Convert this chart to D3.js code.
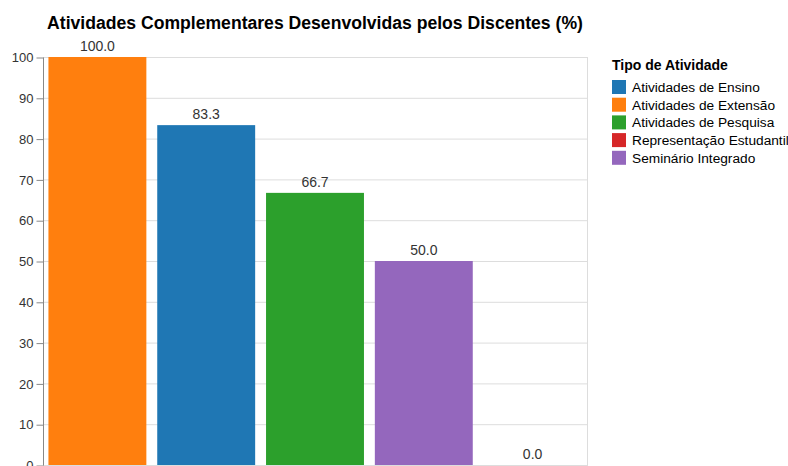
<!DOCTYPE html>
<html>
<head>
<meta charset="utf-8">
<script src="https://cdn.jsdelivr.net/npm/d3@7"></script>
<style>
  html, body { margin: 0; padding: 0; background: #fff; }
  svg { display: block; font-family: "Liberation Sans", Arial, Helvetica, sans-serif; }
</style>
</head>
<body>
<svg id="chart" width="788" height="466"></svg>
<script>
const categories = ["Atividades de Extensão", "Atividades de Ensino", "Atividades de Pesquisa", "Seminário Integrado", "Representação Estudantil"];
const values = [100.0, 83.3, 66.7, 50.0, 0.0];
const legendOrder = ["Atividades de Ensino", "Atividades de Extensão", "Atividades de Pesquisa", "Representação Estudantil", "Seminário Integrado"];
const yTicks = [0, 10, 20, 30, 40, 50, 60, 70, 80, 90, 100];
const titleText = "Atividades Complementares Desenvolvidas pelos Discentes (%)";
const legendTitle = "Tipo de Atividade";

const svg = d3.select("#chart");
const m = { left: 43, top: 57, right: 587, bottom: 465 };

const x = d3.scaleBand().domain(categories).range([m.left, m.right]).paddingInner(0.1).paddingOuter(0.05);
const y = d3.scaleLinear().domain([0, 100]).range([m.bottom, m.top]);
const color = d3.scaleOrdinal().domain(legendOrder).range(d3.schemeCategory10);

// grid
svg.append("g").selectAll("line").data(yTicks).join("line")
  .attr("x1", m.left).attr("x2", m.right)
  .attr("y1", d => y(d) + 0.5).attr("y2", d => y(d) + 0.5)
  .attr("stroke", "#ddd").attr("stroke-width", 1);

// view border
svg.append("rect")
  .attr("x", m.left + 0.5).attr("y", m.top + 0.5)
  .attr("width", m.right - m.left).attr("height", m.bottom - m.top)
  .attr("fill", "none").attr("stroke", "#ddd");

// bars
const data = categories.map((c, i) => ({ c, v: values[i] }));
svg.append("g").selectAll("rect").data(data).join("rect")
  .attr("x", d => x(d.c)).attr("width", x.bandwidth())
  .attr("y", d => y(d.v)).attr("height", d => y(0) - y(d.v))
  .attr("fill", d => color(d.c));

// value labels
svg.append("g").selectAll("text").data(data).join("text")
  .attr("x", d => x(d.c) + x.bandwidth() / 2)
  .attr("y", d => y(d.v) - 6)
  .attr("text-anchor", "middle")
  .attr("font-size", 14)
  .attr("fill", "#333")
  .text(d => d.v.toFixed(1));

// y axis
const yAxis = d3.axisLeft(y).tickValues(yTicks).tickSize(7).tickPadding(3);
const gy = svg.append("g").attr("transform", `translate(${m.left + 0.5},0.5)`).call(yAxis);
gy.select(".domain").attr("stroke", "#888").attr("d", `M0,${m.top}V${m.bottom}`);
gy.selectAll(".tick line").attr("stroke", "#888");
gy.selectAll(".tick text").attr("font-size", 13).attr("fill", "#333").attr("font-family", null);
gy.attr("font-family", null);

// title
svg.append("text")
  .attr("x", (m.left + m.right) / 2).attr("y", 29)
  .attr("text-anchor", "middle")
  .attr("font-size", 17.6).attr("font-weight", "bold").attr("fill", "#000")
  .text(titleText);

// legend
const lg = svg.append("g").attr("transform", "translate(612,0)");
lg.append("text").attr("x", 0).attr("y", 69.5)
  .attr("font-size", 14).attr("font-weight", "bold").attr("fill", "#000")
  .text(legendTitle);
const items = lg.selectAll("g.item").data(legendOrder).join("g")
  .attr("class", "item")
  .attr("transform", (d, i) => `translate(0,${87 + i * 17.7})`);
items.append("rect").attr("x", 0).attr("y", -7).attr("width", 14).attr("height", 14)
  .attr("fill", d => color(d));
items.append("text").attr("x", 20).attr("y", 5)
  .attr("font-size", 13.7).attr("fill", "#000")
  .text(d => d);
</script>
</body>
</html>
